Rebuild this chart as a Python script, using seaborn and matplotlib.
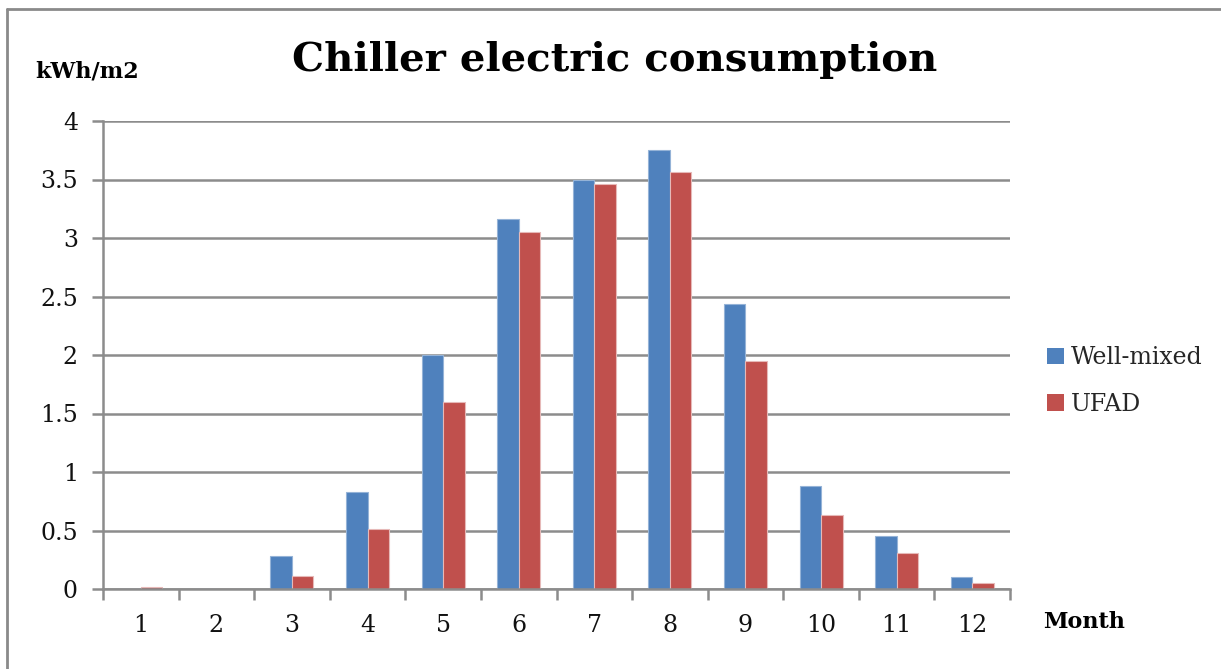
import matplotlib
matplotlib.use("Agg")
import matplotlib.pyplot as plt
from matplotlib.lines import Line2D
from matplotlib.patches import Patch
import seaborn as sns
import pandas as pd

months = ["1", "2", "3", "4", "5", "6", "7", "8", "9", "10", "11", "12"]
well_mixed = [0.0, 0.0, 0.28, 0.83, 2.0, 3.16, 3.50, 3.75, 2.44, 0.88, 0.45, 0.10]
ufad = [0.015, 0.0, 0.11, 0.51, 1.60, 3.05, 3.46, 3.56, 1.95, 0.63, 0.31, 0.05]
series = ["Well-mixed", "UFAD"]
colors = {"Well-mixed": "#4F81BD", "UFAD": "#C0504D"}
edge_colors = {"Well-mixed": "#95B3D7", "UFAD": "#E6B9B8"}
y_ticks = [0, 0.5, 1, 1.5, 2, 2.5, 3, 3.5, 4]

df = pd.DataFrame({
    "Month": months * 2,
    "Value": well_mixed + ufad,
    "Series": [series[0]] * len(months) + [series[1]] * len(months),
})

sns.set_theme(style="white")
plt.rcParams["font.family"] = ["DejaVu Serif"]

fig = plt.figure(figsize=(12.21, 6.69), dpi=100)
ax = fig.add_axes([103 / 1221, 1 - 589 / 669, (1010 - 103) / 1221, (589 - 121) / 669])

sns.barplot(data=df, x="Month", y="Value", hue="Series", order=months,
            hue_order=series, palette=colors, width=0.57, saturation=1,
            legend=False, ax=ax)

# thin lighter outline around each bar
for container, name in zip(ax.containers, series):
    for bar in container:
        bar.set_edgecolor(edge_colors[name])
        bar.set_linewidth(0.8)

grid_col = "#8C8C8C"
ax.set_ylim(0, 4)
ax.set_xlim(-0.5, len(months) - 0.5)
ax.set_yticks(y_ticks)
ax.set_yticklabels([f"{t:g}" for t in y_ticks])
ax.yaxis.grid(True, color=grid_col, linewidth=1.8)
ax.set_axisbelow(True)

for side in ["top", "right"]:
    ax.spines[side].set_visible(False)
for side in ["left", "bottom"]:
    ax.spines[side].set_color(grid_col)
    ax.spines[side].set_linewidth(1.8)

# category ticks sit on the boundaries between months
ax.set_xticks([i - 0.5 for i in range(len(months) + 1)], minor=True)
ax.set_xticks(range(len(months)))
ax.set_xticklabels(months)
ax.tick_params(axis="x", which="major", length=0, pad=18, labelsize=17, labelcolor="#111111")
ax.tick_params(axis="x", which="minor", length=8, width=1.8, color=grid_col, direction="out", bottom=True)
ax.tick_params(axis="y", length=8, width=1.8, color=grid_col, direction="out", left=True,
               pad=10, labelsize=17, labelcolor="#111111")

ax.set_xlabel("")
ax.set_ylabel("")

fig.text(615 / 1221, 1 - 60 / 669, "Chiller electric consumption", ha="center", va="center",
         fontsize=29, fontweight="bold", color="#000000")
fig.text(35 / 1221, 1 - 72 / 669, "kWh/m2", ha="left", va="center",
         fontsize=16, fontweight="bold", color="#000000")
fig.text(1043 / 1221, 1 - 622 / 669, "Month", ha="left", va="center",
         fontsize=16, fontweight="bold", color="#000000")

handles = [Patch(facecolor=colors[s], edgecolor="none") for s in series]
fig.legend(handles, series, loc="center left", bbox_to_anchor=(1026 / 1221, 1 - 381 / 669),
           frameon=False, fontsize=17, handlelength=0.7, handleheight=0.7,
           handletextpad=0.3, labelspacing=1.0)

# outer chart frame
frame_col = "#8A8A8A"
fig.add_artist(Line2D([7 / 1221, 1.01], [1 - 8.5 / 669, 1 - 8.5 / 669], color=frame_col,
                      linewidth=2, transform=fig.transFigure))
fig.add_artist(Line2D([7 / 1221, 7 / 1221], [-0.01, 1 - 8.5 / 669], color=frame_col,
                      linewidth=2, transform=fig.transFigure))

fig.savefig("out.png", dpi=100, facecolor="white")
